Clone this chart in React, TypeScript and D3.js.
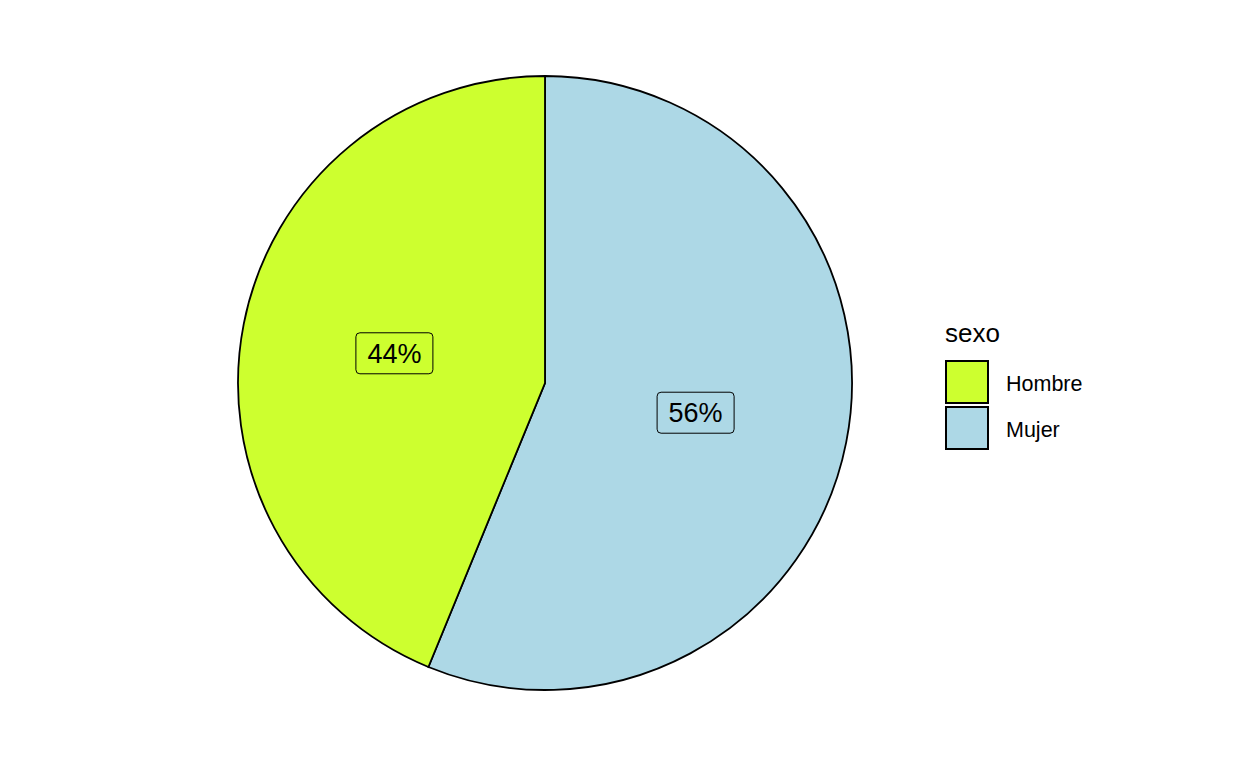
import React from "react";
import * as d3 from "d3";

const categories = ["Hombre", "Mujer"];
const values = [43.8, 56.2];
const labels = ["44%", "56%"];
const colors = ["#CDFF2F", "#ADD8E6"];
const legendTitle = "sexo";

export default function App() {
  const width = 1248;
  const height = 768;
  const cx = 545;
  const cy = 383;
  const r = 307;

  const total = d3.sum(values);
  // Mujer drawn clockwise from 12 o'clock, Hombre fills the rest
  const order = [1, 0];
  const angle = d3.scaleLinear().domain([0, total]).range([0, 2 * Math.PI]);
  let acc = 0;
  const slices = order.map((i) => {
    const s = { i, start: angle(acc), end: angle(acc + values[i]) };
    acc += values[i];
    return s;
  });
  const arc = d3.arc<any>().innerRadius(0).outerRadius(r);
  const labelArc = d3.arc<any>().innerRadius(r * 0.5).outerRadius(r * 0.5);

  const font = "Arial, 'Liberation Sans', sans-serif";
  const boxW = 77;
  const boxH = 41;

  return (
    <svg
      width={width}
      height={height}
      style={{ position: "absolute", left: 0, top: 0, background: "#fff" }}
    >
      <g transform={`translate(${cx},${cy})`}>
        {slices.map((s) => (
          <path
            key={s.i}
            d={arc({ startAngle: s.start, endAngle: s.end }) as string}
            fill={colors[s.i]}
            stroke="#000"
            strokeWidth={1.8}
          />
        ))}
        {slices.map((s) => {
          const [lx, ly] = labelArc.centroid({ startAngle: s.start, endAngle: s.end } as any);
          return (
            <g key={"l" + s.i} transform={`translate(${lx},${ly})`}>
              <rect
                x={-boxW / 2}
                y={-boxH / 2}
                width={boxW}
                height={boxH}
                rx={4}
                fill={colors[s.i]}
                stroke="#000"
                strokeWidth={1}
              />
              <text
                textAnchor="middle"
                dy="0.36em"
                fontSize={27}
                fontFamily={font}
                fill="#000"
              >
                {labels[s.i]}
              </text>
            </g>
          );
        })}
      </g>
      <g transform="translate(945,0)">
        <text x={0} y={342} fontSize={26} fontFamily={font} fill="#000">
          {legendTitle}
        </text>
        {categories.map((c, i) => (
          <g key={c} transform={`translate(0,${360 + i * 46})`}>
            <rect x={1} y={1} width={42} height={42} fill={colors[i]} stroke="#000" strokeWidth={2} />
            <text x={61} y={23} dy="0.36em" fontSize={21.5} fontFamily={font} fill="#000">
              {c}
            </text>
          </g>
        ))}
      </g>
    </svg>
  );
}
